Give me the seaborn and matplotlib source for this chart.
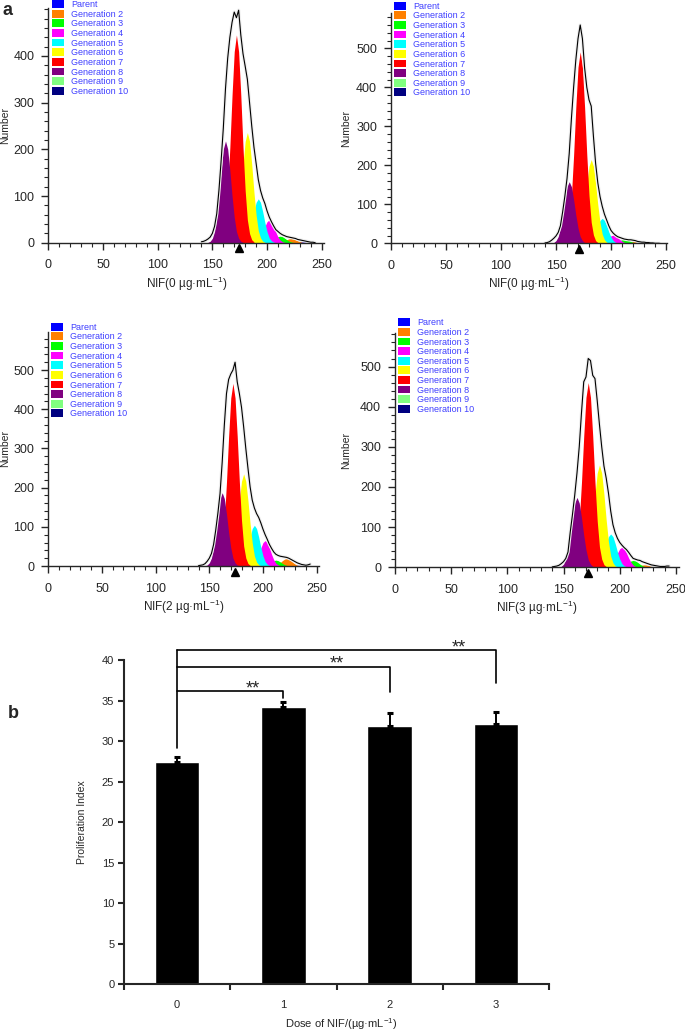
import matplotlib
matplotlib.use('Agg')
import matplotlib.pyplot as plt
import matplotlib.transforms as mtransforms
import matplotlib.patheffects as pe
from matplotlib.patches import Patch
from matplotlib.ticker import MultipleLocator
import seaborn as sns
import pandas as pd
import numpy as np

# ---- panel a: ModFit generation peaks ----
generations = ['Parent', 'Generation 2', 'Generation 3', 'Generation 4', 'Generation 5',
               'Generation 6', 'Generation 7', 'Generation 8', 'Generation 9', 'Generation 10']
gen_colors = ['#0000ff', '#ff8000', '#00ff00', '#ff00ff', '#00ffff',
              '#ffff00', '#ff0000', '#800080', '#80ff80', '#000080']
gen_centers = [232, 222, 212, 202, 192, 182, 172, 162, 152, 142]

# normalised peak shape (offsets -16..16, step 2)
peak_offsets = [-16, -14, -12, -10, -8, -6, -4, -2, 0, 2, 4, 6, 8, 10, 12, 14, 16]
peak_profile = [0.004, 0.014, 0.044, 0.11, 0.25, 0.46, 0.71, 0.92, 1.0,
                0.92, 0.71, 0.46, 0.25, 0.11, 0.044, 0.014, 0.004]

heights_nif0a = [2, 9, 14, 49, 94, 236, 445, 218, 0, 0]
heights_nif0b = [1, 5, 10, 21, 64, 215, 491, 158, 0, 0]
heights_nif2 = [2, 19, 15, 65, 104, 235, 466, 187, 0, 0]
heights_nif3 = [2, 6, 17, 50, 83, 255, 460, 174, 0, 0]

# histogram outline (x = 140..244 step 2)
outline_x = list(range(140, 246, 2))
outline_nif0a = [2, 3, 5, 8, 12, 20, 35, 62, 112, 175,
                 245, 330, 395, 440, 472, 494, 482, 498, 445, 405,
                 378, 350, 300, 250, 205, 170, 135, 112, 96, 84,
                 68, 55, 45, 36, 28, 24, 20, 17, 15, 13,
                 12, 11, 10, 9, 7, 6, 5, 4, 3, 2,
                 1, 1, 0]
outline_nif0b = [1, 2, 4, 8, 13, 19, 28, 45, 80, 120,
                 166, 230, 320, 400, 470, 525, 560, 525, 450, 400,
                 368, 352, 275, 205, 155, 120, 95, 75, 60, 45,
                 33, 26, 21, 17, 15, 13, 11, 10, 9, 9,
                 8, 7, 5, 4, 3, 3, 2, 2, 1, 1,
                 0, 0, 0]
outline_nif2 = [1, 2, 3, 6, 12, 20, 32, 55, 92, 135,
                185, 265, 360, 440, 476, 490, 500, 520, 470, 440,
                405, 355, 300, 250, 202, 168, 148, 134, 124, 110,
                94, 80, 68, 55, 45, 36, 30, 27, 25, 24,
                23, 22, 20, 17, 14, 11, 8, 6, 4, 3,
                2, 3, 5]
outline_nif3 = [1, 2, 3, 5, 9, 14, 22, 38, 88, 132,
                180, 235, 300, 385, 462, 474, 520, 515, 478, 470,
                415, 355, 300, 252, 222, 185, 140, 106, 86, 72,
                62, 55, 49, 44, 37, 29, 22, 20, 18, 17,
                14, 12, 10, 8, 6, 5, 4, 3, 2, 2,
                2, 3, 3]

panel_labels = ['NIF(0 µg·mL$^{-1}$)', 'NIF(0 µg·mL$^{-1}$)',
                'NIF(2 µg·mL$^{-1}$)', 'NIF(3 µg·mL$^{-1}$)']
marker_pos = [174, 171, 174, 172]

# ---- panel b: proliferation index ----
doses = ['0', '1', '2', '3']
prolif_index = [27.4, 34.2, 31.85, 32.05]
prolif_err = [0.6, 0.6, 1.6, 1.6]
sig_pairs = [(0, 1), (0, 2), (0, 3)]
sig_line_y = [36.2, 39.2, 41.2]
sig_drop_end = [35.3, 36.1, 37.2]
sig_base = 29.1
sig_star_x = [0.71, 1.5, 2.65]

sns.set_style('ticks')
plt.rcParams['font.family'] = ['Liberation Sans', 'DejaVu Sans']
plt.rcParams['mathtext.fontset'] = 'custom'
plt.rcParams['mathtext.rm'] = 'Liberation Sans'
plt.rcParams['mathtext.it'] = 'Liberation Sans:italic'
plt.rcParams['mathtext.bf'] = 'Liberation Sans:bold'

fig = plt.figure(figsize=(6.85, 10.31), dpi=100)

# axes rects + limits for the 4 histograms
rects = [[0.0705, 0.7646, 0.4032, 0.2273],
         [0.5708, 0.7640, 0.4031, 0.2231],
         [0.0705, 0.4510, 0.3949, 0.2273],
         [0.5766, 0.4498, 0.4150, 0.2270]]
ytops = [502, 590, 598, 583]
xrights = [252.5, 251, 252, 253]
ytick_sets = [[0, 100, 200, 300, 400], [0, 100, 200, 300, 400, 500],
              [0, 100, 200, 300, 400, 500], [0, 100, 200, 300, 400, 500]]
legend_anchor = [(0.012, 1.035), (0.011, 1.05), (0.010, 1.038), (0.010, 1.064)]
ylabel_x = [-0.138, -0.145, -0.141, -0.153]
xlabel_y = [-0.135, -0.135, -0.135, -0.135]

all_heights = [heights_nif0a, heights_nif0b, heights_nif2, heights_nif3]
all_outlines = [outline_nif0a, outline_nif0b, outline_nif2, outline_nif3]

for i in range(4):
    ax = fig.add_axes(rects[i])
    heights = all_heights[i]
    for color, center, h in zip(gen_colors, gen_centers, heights):
        if h <= 0:
            continue
        xs = [center + o for o in peak_offsets]
        ys = [h * p for p in peak_profile]
        ax.fill_between(xs, ys, color=color, lw=0)
    line = sns.lineplot(x=outline_x, y=all_outlines[i], ax=ax, color='black', lw=0.8,
                        estimator=None, sort=False)
    ax.lines[-1].set_path_effects([pe.Stroke(linewidth=2.4, foreground='#eeeeee'), pe.Normal()])
    ax.set_xlim(0, xrights[i])
    ax.set_ylim(0, ytops[i])
    ax.set_xticks([0, 50, 100, 150, 200, 250])
    ax.set_yticks(ytick_sets[i])
    ax.xaxis.set_minor_locator(MultipleLocator(10))
    ax.yaxis.set_minor_locator(MultipleLocator(20))
    ax.tick_params(which='major', direction='out', length=5, width=1, labelsize=9, pad=5)
    ax.tick_params(which='minor', direction='out', length=3, width=0.8)
    ax.tick_params(axis='x', which='major', pad=7)
    for s in ['top', 'right']:
        ax.spines[s].set_visible(False)
    for s in ['left', 'bottom']:
        ax.spines[s].set_linewidth(1)
    ax.set_ylabel('Number', fontsize=7.5)
    ax.yaxis.set_label_coords(ylabel_x[i], 0.5)
    ax.set_xlabel(panel_labels[i], fontsize=8.5)
    ax.xaxis.set_label_coords(0.5, xlabel_y[i])
    trans = mtransforms.blended_transform_factory(ax.transData, ax.transAxes)
    ax.plot([marker_pos[i]], [-0.024], marker='^', color='black', ms=5.5,
            transform=trans, clip_on=False, ls='none')
    handles = [Patch(facecolor=c, edgecolor='none') for c in gen_colors]
    ax.legend(handles, generations, loc='upper left', bbox_to_anchor=legend_anchor[i],
              frameon=False, fontsize=6.5, labelspacing=0.07, handlelength=1.35,
              handleheight=0.95, handletextpad=0.8, borderpad=0, borderaxespad=0,
              labelcolor='#4040ff')

# ---- panel b ----
axb = fig.add_axes([0.1810, 0.0453, 0.6209, 0.3145])
bar_df = pd.DataFrame({'dose': doses, 'index': prolif_index})
sns.barplot(data=bar_df, x='dose', y='index', color='black', width=0.42,
            saturation=1, ax=axb, errorbar=None)
pos = np.arange(len(doses))
axb.errorbar(pos, prolif_index, yerr=[[0] * len(doses), prolif_err], fmt='none',
             ecolor='black', elinewidth=1.4, capsize=2.4, capthick=2.2)
for (a, b), ly, yend, sx in zip(sig_pairs, sig_line_y, sig_drop_end, sig_star_x):
    axb.plot([a, b, b], [ly, ly, yend], color='black', lw=1.2, clip_on=False)
    axb.text(sx, ly - 0.3, '**', ha='center', va='baseline', fontsize=13, clip_on=False)
axb.plot([0, 0], [sig_base, max(sig_line_y)], color='black', lw=1.2, clip_on=False)
axb.set_xlim(-0.5, 3.5)
axb.set_ylim(0, 40)
axb.set_yticks(range(0, 45, 5))
axb.set_xticks([-0.5, 0.5, 1.5, 2.5, 3.5])
axb.set_xticklabels([])
axb.set_xticks(pos, minor=True)
axb.set_xticklabels(doses, minor=True)
axb.tick_params(axis='x', which='major', direction='out', length=4.5, width=1.5)
axb.tick_params(axis='x', which='minor', length=0, labelsize=8, pad=11)
axb.tick_params(axis='y', direction='out', length=4.5, width=1.5, labelsize=8, pad=2.5)
for s in ['top', 'right']:
    axb.spines[s].set_visible(False)
for s in ['left', 'bottom']:
    axb.spines[s].set_linewidth(1.5)
axb.set_ylabel('Proliferation Index', fontsize=7.5)
axb.yaxis.set_label_coords(-0.087, 0.5)
axb.set_xlabel('Dose of NIF/(µg·mL$^{-1}$)', fontsize=8)
axb.xaxis.set_label_coords(0.51, -0.098)

fig.text(0.004, 0.998, 'a', fontsize=13, fontweight='bold', va='top', ha='left')
fig.text(0.012, 0.316, 'b', fontsize=13, fontweight='bold', va='top', ha='left')

fig.savefig('out.png', dpi=100)
